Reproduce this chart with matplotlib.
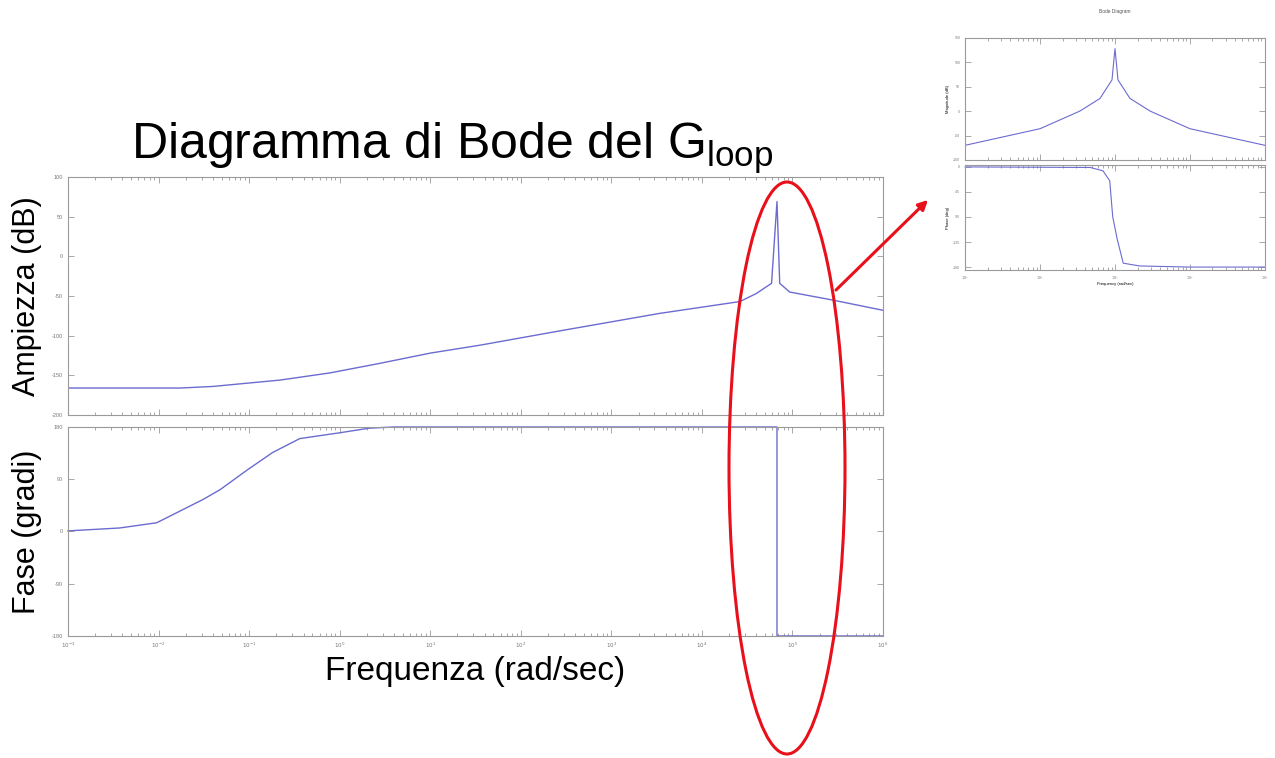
import numpy as np
import matplotlib
matplotlib.use("Agg")
import matplotlib.pyplot as plt
from matplotlib.patches import Ellipse, FancyArrowPatch

# main Bode plot (log10 of frequency)
mag_logw = [-3.0, -1.76, -1.40, -0.66, -0.11, 0.44, 1.0, 1.55, 2.43, 3.53, 4.42, 4.60, 4.77, 4.83, 4.86, 4.97, 5.44, 6.0]
mag_db = [-166, -166, -164, -156, -147, -135, -122, -112, -94, -72, -57, -47, -34, 69, -34, -45, -55, -68]

ph_logw = [-3.0, -2.43, -2.02, -1.51, -1.32, -1.02, -0.74, -0.44, 0.0, 0.33, 0.6, 4.83, 4.83, 6.0]
ph_deg = [1, 6, 15, 55, 72, 106, 136, 160, 170, 178, 180, 180, -180, -180]

mag_ticks = [-200, -150, -100, -50, 0, 50, 100]
ph_ticks = [-180, -90, 0, 90, 180]
decades = list(range(-3, 7))

# small inset (MATLAB default bode output)
in_mag_logw = [2.0, 3.0, 3.53, 3.8, 3.96, 4.0, 4.04, 4.2, 4.47, 5.0, 6.0]
in_mag_db = [-70, -36, 0, 26, 64, 128, 64, 26, 0, -36, -70]
in_ph_logw = [2.0, 3.67, 3.84, 3.93, 3.97, 4.03, 4.11, 4.33, 5.0, 6.0]
in_ph_deg = [0, -1, -7, -25, -90, -130, -173, -178, -180, -180]
in_mag_ticks = [-100, -50, 0, 50, 100, 150]
in_ph_ticks = [-180, -135, -90, -45, 0]
in_decades = [2, 3, 4, 5, 6]

line_col = '#6b6bd0'
edge_col = '#9a9a9a'
plt.rcParams['font.family'] = ['Liberation Sans', 'DejaVu Sans']

fig = plt.figure(figsize=(12.75, 7.58), dpi=100)

def style(ax, ticks, decs, fs, show_x):
    ax.set_xscale('log')
    ax.set_xlim(10.0**decs[0], 10.0**decs[-1])
    ax.set_yticks(ticks)
    ax.set_yticklabels([str(t) for t in ticks])
    ax.set_xticks([10.0**d for d in decs])
    ax.set_xticklabels(['$10^{%d}$' % d for d in decs] if show_x else [])
    ax.tick_params(which='both', direction='in', top=True, right=True,
                   colors=edge_col, labelcolor='#777777', labelsize=fs, width=0.6)
    ax.tick_params(which='major', length=4)
    ax.tick_params(which='minor', length=2)
    for s in ax.spines.values():
        s.set_color(edge_col)
        s.set_linewidth(0.8)

ax1 = fig.add_axes([0.0533, 0.4525, 0.6392, 0.314])
ax1.plot(10.0**np.array(mag_logw), mag_db, color=line_col, lw=1.0)
ax1.set_ylim(-200, 100)
style(ax1, mag_ticks, decades, 4, False)
ax1.set_ylabel('Ampiezza (dB)', fontsize=22, labelpad=7)

ax2 = fig.add_axes([0.0533, 0.161, 0.6392, 0.2757])
ax2.plot(10.0**np.array(ph_logw), ph_deg, color=line_col, lw=1.0, clip_on=False)
ax2.set_ylim(-180, 180)
style(ax2, ph_ticks, decades, 4, True)
ax2.set_ylabel('Fase (gradi)', fontsize=22, labelpad=7)
ax2.set_xlabel('Frequenza (rad/sec)', fontsize=24, labelpad=4)

fig.text(0.3545, 0.791, 'Diagramma di Bode del G$_{\\mathregular{loop}}$', fontsize=36, ha='center', va='baseline')

# inset
ax3 = fig.add_axes([0.757, 0.789, 0.235, 0.161])
ax3.plot(10.0**np.array(in_mag_logw), in_mag_db, color=line_col, lw=0.8)
ax3.set_ylim(-100, 150)
style(ax3, in_mag_ticks, in_decades, 2.5, False)
ax3.set_ylabel('Magnitude (dB)', fontsize=3, labelpad=2)
ax3.set_title('Bode Diagram', fontsize=3.5, color='#555555', pad=18)

ax4 = fig.add_axes([0.757, 0.644, 0.235, 0.138])
ax4.plot(10.0**np.array(in_ph_logw), in_ph_deg, color=line_col, lw=0.8, clip_on=False)
ax4.set_ylim(-185, 3)
style(ax4, in_ph_ticks, in_decades, 2.5, True)
ax4.set_ylabel('Phase (deg)', fontsize=3, labelpad=2)
ax4.set_xlabel('Frequency (rad/sec)', fontsize=3, labelpad=0)

# red annotation overlay in pixel coordinates
ov = fig.add_axes([0, 0, 1, 1], zorder=10)
ov.set_xlim(0, 1275)
ov.set_ylim(758, 0)
ov.axis('off')
ov.patch.set_alpha(0)
ov.add_patch(Ellipse((787, 468), 116, 572, fill=False, edgecolor='#e8101a', lw=2.2))
ov.add_patch(FancyArrowPatch((834, 292), (930, 198), arrowstyle='-|>', mutation_scale=14,
                             color='#e8101a', lw=2.2))

fig.savefig('out.png', dpi=100, facecolor='white')
